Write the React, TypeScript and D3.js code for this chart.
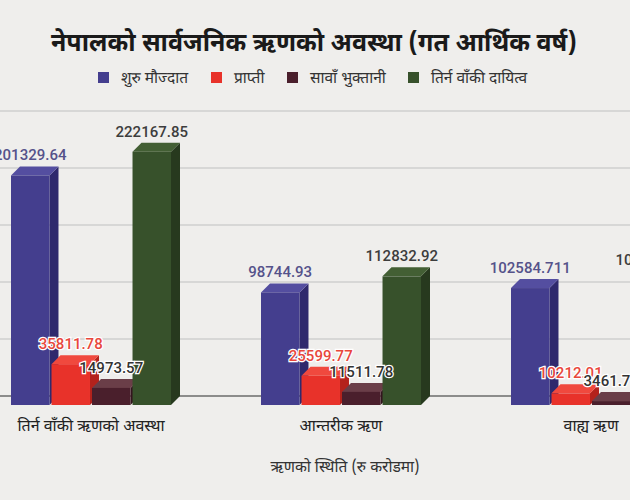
import React from "react";
import * as d3 from "d3";

const categories = ["तिर्न वाँकी ऋणको अवस्था", "आन्तरीक ऋण", "वाह्य ऋण"];
const seriesNames = ["शुरु मौज्दात", "प्राप्ती", "सावाँ भुक्तानी", "तिर्न वाँकी दायित्व"];
const openingBalance = [201329.64, 98744.93, 102584.711];
const receipts = [35811.78, 25599.77, 10212.01];
const principalPaid = [14973.57, 11511.78, 3461.79];
const outstanding = [222167.85, 112832.92, 109334.93];
const yTicks = [0, 50000, 100000, 150000, 200000, 250000];
const seriesValues = [openingBalance, receipts, principalPaid, outstanding];
const valueLabels = [
  ["201329.64", "98744.93", "102584.711"],
  ["35811.78", "25599.77", "10212.01"],
  ["14973.57", "11511.78", "3461.79"],
  ["222167.85", "112832.92", "109334.93"],
];

const W = 630;
const H = 500;
const DEV = "'Noto Sans Devanagari', 'Noto Sans', 'Lohit Devanagari', sans-serif";
const NUM = "Roboto, 'Open Sans', sans-serif";

const colors = [
  { front: "#443e8e", side: "#2f296d", top: "#544ea0", label: "#55528a", halo: false },
  { front: "#e8322a", side: "#b4221c", top: "#f0493e", label: "#e8473c", halo: true },
  { front: "#4a1f2c", side: "#33141e", top: "#6a3e48", label: "#333333", halo: true },
  { front: "#37512b", side: "#27391e", top: "#435f34", label: "#3d3d3d", halo: false },
];

export default function App() {
  const depthX = 9;
  const depthY = 9;
  const y = d3.scaleLinear().domain([0, 250000]).range([396, 111]);
  const x0 = d3
    .scaleBand<string>()
    .domain(categories)
    .range([-34, 716])
    .paddingInner(0.36)
    .paddingOuter(0.18);
  const x1 = d3
    .scaleBand<string>()
    .domain(seriesNames)
    .range([0, x0.bandwidth()])
    .paddingInner(0.05)
    .paddingOuter(0);
  const bw = x1.bandwidth();
  const base = y(0);
  const legendX = [98, 211, 287, 408];

  return (
    <svg
      width={W}
      height={H}
      style={{ position: "absolute", left: 0, top: 0, display: "block" }}
    >
      <rect x={0} y={0} width={W} height={H} fill="#efeeec" />
      <text
        x={314}
        y={51}
        textAnchor="middle"
        fontFamily={DEV}
        fontWeight="bold"
        fontSize={25}
        fill="#1a1a1a"
      >
        नेपालको सार्वजनिक ऋणको अवस्था (गत आर्थिक वर्ष)
      </text>
      {seriesNames.map((s, i) => (
        <g key={s} transform={`translate(${legendX[i]},72)`}>
          <rect x={0} y={0} width={11} height={11} fill={colors[i].front} />
          <text x={23} y={11} fontFamily={DEV} fontSize={15.5} fill="#333">
            {s}
          </text>
        </g>
      ))}
      {yTicks.slice(1).map((t) => (
        <line key={t} x1={0} x2={W} y1={y(t)} y2={y(t)} stroke="#cfcfcf" strokeWidth={1.5} />
      ))}
      <line x1={0} x2={W} y1={base} y2={base} stroke="#6b6b6b" strokeWidth={1.5} />
      {categories.map((c, ci) => (
        <g key={c}>
          {seriesNames.map((s, si) => {
            const v = seriesValues[si][ci];
            const xf = (x0(c) ?? 0) + (x1(s) ?? 0);
            const topF = y(v) + depthY;
            const botF = base + depthY;
            const col = colors[si];
            return (
              <g key={s}>
                <polygon
                  points={`${xf + bw},${topF} ${xf + bw + depthX},${topF - depthY} ${xf + bw + depthX},${botF - depthY} ${xf + bw},${botF}`}
                  fill={col.side}
                />
                <polygon
                  points={`${xf},${topF} ${xf + depthX},${topF - depthY} ${xf + bw + depthX},${topF - depthY} ${xf + bw},${topF}`}
                  fill={col.top}
                />
                <rect x={xf} y={topF} width={bw} height={botF - topF} fill={col.front} />
              </g>
            );
          })}
        </g>
      ))}
      {categories.map((c, ci) => (
        <g key={"lab" + c}>
          {seriesNames.map((s, si) => {
            const v = seriesValues[si][ci];
            const xf = (x0(c) ?? 0) + (x1(s) ?? 0);
            const col = colors[si];
            return (
              <text
                key={s}
                x={xf + bw / 2}
                y={y(v) - 6}
                textAnchor="middle"
                fontFamily={NUM}
                fontWeight={500}
                fontSize={15}
                fill={col.label}
                stroke={col.halo ? "#ffffff" : "none"}
                strokeWidth={col.halo ? 2.5 : 0}
                paintOrder="stroke"
              >
                {valueLabels[si][ci]}
              </text>
            );
          })}
        </g>
      ))}
      {categories.map((c) => (
        <text
          key={"cat" + c}
          x={(x0(c) ?? 0) + x0.bandwidth() / 2}
          y={431}
          textAnchor="middle"
          fontFamily={DEV}
          fontSize={16}
          fill="#222"
        >
          {c}
        </text>
      ))}
      <text x={345} y={472} textAnchor="middle" fontFamily={DEV} fontSize={15.5} fill="#333">
        ऋणको स्थिति (रु करोडमा)
      </text>
    </svg>
  );
}
